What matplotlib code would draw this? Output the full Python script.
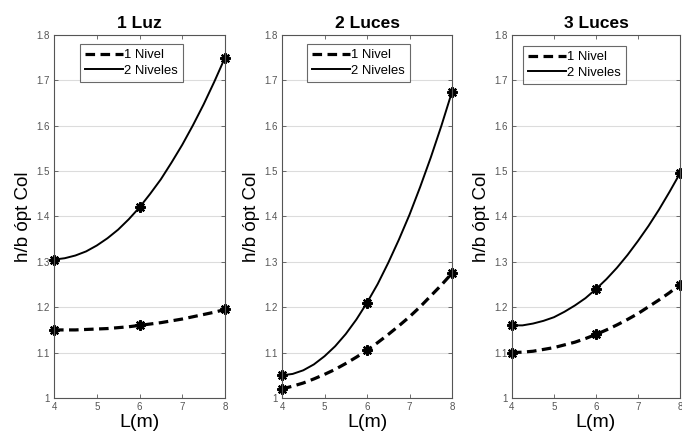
import numpy as np
import matplotlib
matplotlib.use("Agg")
import matplotlib.pyplot as plt

plt.rcParams['font.family'] = ['Liberation Sans', 'DejaVu Sans']

# computed points (markers)
L_pts = [4, 6, 8]
# curve every 0.25 m
L_curve = [4.0, 4.25, 4.5, 4.75, 5.0, 5.25, 5.5, 5.75, 6.0,
           6.25, 6.5, 6.75, 7.0, 7.25, 7.5, 7.75, 8.0]

titles = ['1 Luz', '2 Luces', '3 Luces']

n1_pts = [[1.150, 1.160, 1.195],
          [1.020, 1.105, 1.275],
          [1.100, 1.140, 1.250]]
n2_pts = [[1.305, 1.420, 1.750],
          [1.050, 1.210, 1.675],
          [1.160, 1.240, 1.495]]

n1_curve = [[1.150, 1.150, 1.150, 1.151, 1.152, 1.153, 1.155, 1.157, 1.160,
             1.163, 1.166, 1.170, 1.174, 1.179, 1.184, 1.189, 1.195],
            [1.020, 1.026, 1.033, 1.042, 1.052, 1.063, 1.076, 1.090, 1.105,
             1.122, 1.140, 1.159, 1.179, 1.201, 1.225, 1.249, 1.275],
            [1.100, 1.101, 1.103, 1.107, 1.111, 1.117, 1.123, 1.131, 1.140,
             1.150, 1.161, 1.173, 1.186, 1.201, 1.216, 1.232, 1.250]]
n2_curve = [[1.305, 1.308, 1.314, 1.323, 1.336, 1.352, 1.371, 1.394, 1.420,
             1.450, 1.482, 1.519, 1.558, 1.601, 1.647, 1.697, 1.750],
            [1.050, 1.053, 1.061, 1.074, 1.092, 1.114, 1.141, 1.173, 1.210,
             1.251, 1.298, 1.349, 1.404, 1.465, 1.530, 1.600, 1.675],
            [1.160, 1.160, 1.164, 1.170, 1.178, 1.190, 1.204, 1.220, 1.240,
             1.262, 1.287, 1.315, 1.346, 1.379, 1.415, 1.454, 1.495]]

legend_labels = ['1 Nivel', '2 Niveles']

# axes boxes in figure fraction (left, bottom, width, height)
axes_pos = [[0.0792, 0.0955, 0.2507, 0.825],
            [0.4135, 0.0955, 0.2493, 0.825],
            [0.7507, 0.0955, 0.2463, 0.825]]
legend_anchor = [(0.15, 0.975), (0.145, 0.975), (0.065, 0.97)]

fig = plt.figure(figsize=(6.82, 4.40), dpi=100)

for i in range(3):
    ax = fig.add_axes(axes_pos[i])
    l1, = ax.plot(L_curve, n1_curve[i], color='black', linestyle=(0, (3.0, 1.7)), linewidth=2.3)
    l2, = ax.plot(L_curve, n2_curve[i], color='black', linestyle='-', linewidth=1.4)
    for pts in (n1_pts[i], n2_pts[i]):
        ax.plot(L_pts, pts, linestyle='none', marker=(8, 2, 0), color='black',
                markersize=7.5, markeredgewidth=1.6, clip_on=False)

    ax.set_xlim(4, 8)
    ax.set_ylim(1, 1.8)
    ax.set_xticks([4, 5, 6, 7, 8])
    ax.set_yticks(np.arange(1.0, 1.81, 0.1))
    ax.set_yticklabels(['1', '1.1', '1.2', '1.3', '1.4', '1.5', '1.6', '1.7', '1.8'])
    ax.yaxis.grid(True, color='#dcdcdc', linewidth=0.8)
    ax.set_axisbelow(True)
    ax.tick_params(direction='in', length=3, width=0.6, colors='#555555',
                   labelsize=7, top=True, right=True, pad=3)
    for spine in ax.spines.values():
        spine.set_color('#555555')
        spine.set_linewidth(0.8)

    ax.set_title(titles[i], fontsize=12.5, fontweight='bold', pad=5)
    ax.set_xlabel('L(m)', fontsize=14, labelpad=1)
    ax.set_ylabel('h/b ópt Col', fontsize=13.5, labelpad=3)

    leg = ax.legend([l1, l2], legend_labels, loc='upper left', bbox_to_anchor=legend_anchor[i],
                    fontsize=9.4, frameon=True, fancybox=False, handlelength=2.9,
                    handletextpad=0.1, borderpad=0.4, labelspacing=0.25, borderaxespad=0)
    leg.get_frame().set_edgecolor('#444444')
    leg.get_frame().set_linewidth(0.8)

fig.savefig('out.png', dpi=100, facecolor='white')
